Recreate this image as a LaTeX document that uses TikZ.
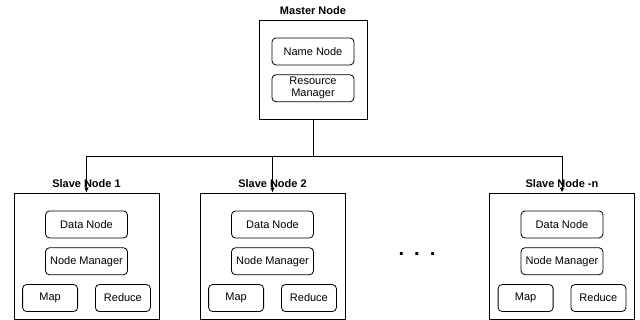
\documentclass[tikz,border=0pt]{standalone}
\usepackage{fontspec}
\setmainfont{Liberation Sans}
\usetikzlibrary{positioning,arrows.meta}
\tikzset{
    machine/.style = {draw, rectangle, line width=0.9pt, minimum width=145pt, minimum height=126pt, inner sep=0pt},
    service/.style = {draw, rectangle, rounded corners=4pt, line width=0.8pt, minimum width=82pt, minimum height=27pt, inner sep=0pt, align=center, font=\fontsize{11}{12}\selectfont},
    task/.style = {service, minimum width=55pt},
    heading/.style = {inner sep=0pt, font=\fontsize{11}{12}\selectfont\bfseries},
}

\begin{document}
\begin{tikzpicture}[x=1pt, y=1pt]
\useasboundingbox (0,0) rectangle (640,320);

% Master machine
\node[machine, minimum width=108pt, minimum height=99pt] (master) at (313,250.5) {};
\node[heading, above=4.5pt of master] (mastertitle) {Master Node};
\node[service, below=18pt of master.north] (namenode) {Name Node};
\node[service, below=9pt of namenode] (resmgr) {Resource\\Manager};

% Slave machines
\node[machine] (slave1) at (86.5,64) {};
\node[heading, above=4.5pt of slave1] (slave1title) {Slave Node 1};
\node[service, below=18pt of slave1.north] (datanode1) {Data Node};
\node[service, below=9pt of datanode1] (nodemgr1) {Node Manager};
\node[task, below left=9pt and 8.5pt of nodemgr1.south] (map1) {Map};
\node[task, below right=9pt and 8.5pt of nodemgr1.south] (reduce1) {Reduce};

\node[machine] (slave2) at (272.5,64) {};
\node[heading, above=4.5pt of slave2] (slave2title) {Slave Node 2};
\node[service, below=18pt of slave2.north] (datanode2) {Data Node};
\node[service, below=9pt of datanode2] (nodemgr2) {Node Manager};
\node[task, below left=9pt and 8.5pt of nodemgr2.south] (map2) {Map};
\node[task, below right=9pt and 8.5pt of nodemgr2.south] (reduce2) {Reduce};

\node[machine] (slaven) at (562,64) {};
\node[heading, above=4.5pt of slaven] (slaventitle) {Slave Node -n};
\node[service, below=18pt of slaven.north] (datanoden) {Data Node};
\node[service, below=9pt of datanoden] (nodemgrn) {Node Manager};
\node[task, below left=9pt and 8.5pt of nodemgrn.south] (mapn) {Map};
\node[task, below right=9pt and 8.5pt of nodemgrn.south] (reducen) {Reduce};

% more slaves in between
\node[anchor=base, inner sep=0pt, font=\fontsize{20}{20}\selectfont\bfseries] (more) at (417,64.5) {.\hspace{10pt}.\hspace{10pt}.};

% Links from master to every slave
\draw[line width=0.8pt] (master.south) -- ++(0,-37) coordinate (bus);
\draw[line width=0.8pt, -{Latex[length=5pt,width=4.5pt]}] (bus) -| (slave1.north);
\draw[line width=0.8pt, -{Latex[length=5pt,width=4.5pt]}] (bus) -| (slave2.north);
\draw[line width=0.8pt, -{Latex[length=5pt,width=4.5pt]}] (bus) -| (slaven.north);

\end{tikzpicture}
\end{document}
